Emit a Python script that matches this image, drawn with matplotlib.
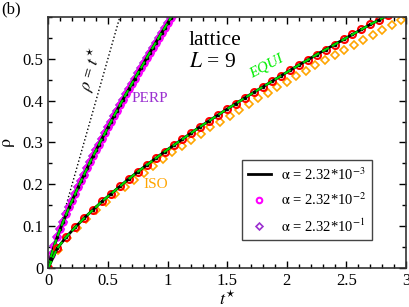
import numpy as np
import matplotlib
matplotlib.use("Agg")
import matplotlib.pyplot as plt
from matplotlib.ticker import MultipleLocator, FixedLocator

plt.rcParams['font.family'] = ['Liberation Serif', 'DejaVu Serif']
plt.rcParams['mathtext.fontset'] = 'stix'

# EQUI case (lattice L=9)
t_equi = [0, 0.075, 0.15, 0.225, 0.3, 0.375, 0.45, 0.525, 0.6, 0.675, 0.75,
          0.825, 0.9, 0.975, 1.05, 1.125, 1.2, 1.275, 1.35, 1.425, 1.5, 1.575,
          1.65, 1.725, 1.8, 1.875, 1.95, 2.025, 2.1, 2.175, 2.25, 2.325, 2.4,
          2.475, 2.55, 2.625, 2.7, 2.775, 2.85, 2.925]
rho_equi = [0, 0.047, 0.074, 0.097, 0.119, 0.139, 0.159, 0.177, 0.195, 0.213,
            0.230, 0.246, 0.262, 0.278, 0.293, 0.308, 0.323, 0.338, 0.352,
            0.366, 0.380, 0.393, 0.407, 0.420, 0.433, 0.446, 0.459, 0.472,
            0.485, 0.497, 0.510, 0.522, 0.534, 0.546, 0.558, 0.570, 0.582,
            0.593, 0.605, 0.617]

# ISO case
t_iso = [0, 0.08, 0.16, 0.24, 0.32, 0.4, 0.48, 0.56, 0.64, 0.72, 0.8, 0.88,
         0.96, 1.04, 1.12, 1.2, 1.28, 1.36, 1.44, 1.52, 1.6, 1.68, 1.76, 1.84,
         1.92, 2.0, 2.08, 2.16, 2.24, 2.32, 2.4, 2.48, 2.56, 2.64, 2.72, 2.8,
         2.88, 2.96]
rho_iso = [0, 0.043, 0.071, 0.095, 0.117, 0.138, 0.157, 0.176, 0.194, 0.211,
           0.228, 0.244, 0.260, 0.276, 0.291, 0.306, 0.321, 0.336, 0.350,
           0.364, 0.378, 0.392, 0.406, 0.419, 0.432, 0.445, 0.458, 0.471,
           0.484, 0.496, 0.509, 0.521, 0.533, 0.545, 0.557, 0.569, 0.581,
           0.593]

# PERP case
t_perp = [0, 0.025, 0.05, 0.075, 0.1, 0.125, 0.15, 0.175, 0.2, 0.225, 0.25,
          0.275, 0.3, 0.325, 0.35, 0.375, 0.4, 0.425, 0.45, 0.475, 0.5, 0.525,
          0.55, 0.575, 0.6, 0.625, 0.65, 0.675, 0.7, 0.725, 0.75, 0.775, 0.8,
          0.825, 0.85, 0.875, 0.9, 0.925, 0.95, 0.975, 1.0, 1.025, 1.05]
rho_perp = [0, 0.030, 0.053, 0.074, 0.093, 0.111, 0.128, 0.145, 0.161, 0.177,
            0.193, 0.208, 0.223, 0.238, 0.253, 0.267, 0.281, 0.295, 0.309,
            0.322, 0.336, 0.349, 0.363, 0.376, 0.389, 0.402, 0.415, 0.427,
            0.440, 0.452, 0.465, 0.477, 0.489, 0.502, 0.514, 0.526, 0.538,
            0.550, 0.562, 0.573, 0.585, 0.597, 0.608]

x_ticks = [0, 0.5, 1, 1.5, 2, 2.5, 3]
x_ticklabels = ['0', '0.5', '1', '1.5', '2', '2.5', '3']
y_ticks = [0, 0.1, 0.2, 0.3, 0.4, 0.5]
y_ticklabels = ['0', '0.1', '0.2', '0.3', '0.4', '0.5']

alpha_labels = [r'$\mathrm{\alpha}$ = 2.32*10$^{-3}$',
                r'$\mathrm{\alpha}$ = 2.32*10$^{-2}$',
                r'$\mathrm{\alpha}$ = 2.32*10$^{-1}$']

fig = plt.figure(figsize=(4.09, 3.07), dpi=100)
ax = fig.add_axes([0.118, 0.127, 0.875, 0.818])

# rho = t* reference
ax.plot([0, 0.6], [0, 0.6], ':', color='k', lw=1)

# PERP
ax.plot(t_perp, rho_perp, 'D', ms=4.5, mfc='none', mec='#9b30d0', mew=1.2)
ax.plot(t_perp, rho_perp, 'o', ms=4.5, mfc='none', mec='#ff00ff', mew=1.5)
ax.plot(t_perp, rho_perp, '-', color='k', lw=2, marker='.', ms=3)
ax.plot(t_perp, rho_perp, '--', color='#00dd00', lw=1.5)

# ISO
ax.plot(t_iso, rho_iso, 'D', ms=4.5, mfc='none', mec='#ffa500', mew=1.2)

# EQUI
ax.plot(t_equi, rho_equi, 'o', ms=5, mfc='none', mec='#ff0000', mew=1.5)
ax.plot(t_equi, rho_equi, '-', color='k', lw=2, marker='.', ms=3)
ax.plot(t_equi, rho_equi, '--', color='#00dd00', lw=1.5)

# legend handles
h1, = ax.plot([], [], '-', color='k', lw=2)
h2, = ax.plot([], [], 'o', ms=4, mfc='none', mec='#ff00ff', mew=1.5)
h3, = ax.plot([], [], 'D', ms=3.5, mfc='none', mec='#9b30d0', mew=1.2)
leg = ax.legend([h1, h2, h3], alpha_labels, loc='lower right',
                bbox_to_anchor=(0.905, 0.11), borderaxespad=0, fontsize=10.5,
                fancybox=False, framealpha=1, edgecolor='#444444',
                handlelength=1.6, handletextpad=0.7, borderpad=0.4,
                labelspacing=0.62)
leg.get_frame().set_linewidth(1)

ax.text(0.36, 0.475, r'$\rho$ = $t^{\star}$', rotation=74, fontsize=12.5,
        ha='center', va='center')
ax.text(1.18, 0.533, 'lattice', fontsize=15.5)
ax.text(1.18, 0.481, r'$L$ = 9', fontsize=15.5)
ax.text(1.83, 0.483, 'EQUI', fontsize=11, color='#00ee00', style='italic',
        rotation=28, ha='center', va='center')
ax.text(0.855, 0.404, 'PERP', fontsize=11, color='#9b30d0',
        ha='center', va='center')
ax.text(0.9, 0.199, 'ISO', fontsize=11, color='#ffa500',
        ha='center', va='center')

ax.set_xlim(0, 3)
ax.set_ylim(0, 0.6)
ax.xaxis.set_major_locator(FixedLocator(x_ticks))
ax.xaxis.set_minor_locator(MultipleLocator(0.1))
ax.yaxis.set_major_locator(FixedLocator(y_ticks))
ax.yaxis.set_minor_locator(MultipleLocator(0.05))
ax.set_xticklabels(x_ticklabels)
ax.set_yticklabels(y_ticklabels)
ax.tick_params(which='both', direction='in', top=True, right=True,
               labelsize=12, width=1)
ax.tick_params(which='major', length=5)
ax.tick_params(which='minor', length=3)
for s in ax.spines.values():
    s.set_linewidth(1.2)
    s.set_color('#333333')

ax.set_xlabel(r'$t^{\star}$', fontsize=13, labelpad=1)
ax.set_ylabel(r'$\mathrm{\rho}$', fontsize=13, labelpad=4)

fig.text(0.002, 0.995, '(b)', fontsize=12, ha='left', va='top')

fig.savefig('out.png', dpi=100)
